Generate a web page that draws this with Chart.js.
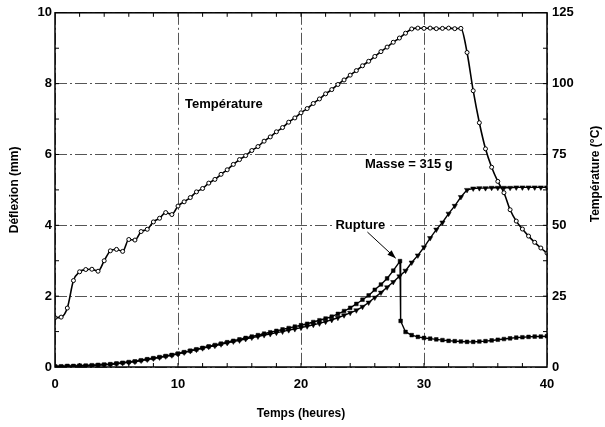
<!DOCTYPE html>
<html>
<head>
<meta charset="utf-8">
<script src="https://cdn.jsdelivr.net/npm/chart.js@4"></script>
<style>
  body { margin: 0; background: #fff; }
  canvas { display: block; }
</style>
</head>
<body>
<canvas id="chart" width="605" height="427"></canvas>
<script>
// temps (heures) pour la température et les triangles
const hours = [0, 0.5, 1, 1.5, 2, 2.5, 3, 3.5, 4, 4.5, 5, 5.5, 6, 6.5, 7, 7.5, 8, 8.5, 9, 9.5,
    10, 10.5, 11, 11.5, 12, 12.5, 13, 13.5, 14, 14.5, 15, 15.5, 16, 16.5, 17, 17.5, 18, 18.5, 19, 19.5,
    20, 20.5, 21, 21.5, 22, 22.5, 23, 23.5, 24, 24.5, 25, 25.5, 26, 26.5, 27, 27.5, 28, 28.5, 29, 29.5,
    30, 30.5, 31, 31.5, 32, 32.5, 33, 33.5, 34, 34.5, 35, 35.5, 36, 36.5, 37, 37.5, 38, 38.5, 39, 39.5, 40];

// température (°C)
const temperature = [17.4, 17.6, 20.8, 30.5, 33.6, 34.4, 34.5, 33.8, 37.5, 41.0, 41.5, 40.8, 45.0, 44.8, 47.8, 48.6, 51.2, 52.5, 54.5, 53.8,
    56.8, 58.3, 59.8, 61.8, 63.0, 64.9, 66.2, 68.0, 69.6, 71.5, 73.2, 74.6, 76.4, 77.8, 79.7, 81.2, 83.0, 84.5, 86.4, 87.9,
    89.7, 91.2, 93.0, 94.6, 96.4, 97.9, 99.7, 101.3, 103.0, 104.6, 106.3, 107.9, 109.6, 111.3, 112.9, 114.6, 116.1, 117.8, 119.3, 119.6,
    119.5, 119.6, 119.4, 119.5, 119.6, 119.4, 119.5, 111.0, 97.5, 86.2, 77.0, 70.5, 65.5, 61.5, 55.5, 51.5, 48.7, 46.2, 44.0, 42.0, 40.2];

// déflexion (mm), triangles
const deflexionTriangles = [0.01, 0.01, 0.02, 0.02, 0.03, 0.03, 0.04, 0.05, 0.06, 0.07, 0.09, 0.11, 0.13, 0.15, 0.18, 0.21, 0.24, 0.27, 0.30, 0.33,
    0.37, 0.41, 0.45, 0.49, 0.53, 0.57, 0.60, 0.64, 0.68, 0.72, 0.75, 0.79, 0.83, 0.86, 0.90, 0.93, 0.97, 1.00, 1.04, 1.07,
    1.11, 1.15, 1.19, 1.23, 1.28, 1.33, 1.39, 1.46, 1.53, 1.60, 1.70, 1.82, 1.96, 2.10, 2.25, 2.40, 2.56, 2.72, 2.95, 3.15,
    3.38, 3.64, 3.88, 4.08, 4.33, 4.55, 4.80, 5.00, 5.04, 5.05, 5.05, 5.06, 5.06, 5.06, 5.06, 5.07, 5.07, 5.07, 5.07, 5.07, 5.07];

// déflexion (mm), carrés : rupture à 28 h
const squareHours = [0, 0.5, 1, 1.5, 2, 2.5, 3, 3.5, 4, 4.5, 5, 5.5, 6, 6.5, 7, 7.5, 8, 8.5, 9, 9.5,
    10, 10.5, 11, 11.5, 12, 12.5, 13, 13.5, 14, 14.5, 15, 15.5, 16, 16.5, 17, 17.5, 18, 18.5, 19, 19.5,
    20, 20.5, 21, 21.5, 22, 22.5, 23, 23.5, 24, 24.5, 25, 25.5, 26, 26.5, 27, 27.5, 28.05, 28.1, 28.5, 29, 29.5,
    30, 30.5, 31, 31.5, 32, 32.5, 33, 33.5, 34, 34.5, 35, 35.5, 36, 36.5, 37, 37.5, 38, 38.5, 39, 39.5, 40];
const deflexionSquares = [0.02, 0.02, 0.03, 0.03, 0.04, 0.04, 0.05, 0.06, 0.07, 0.08, 0.10, 0.12, 0.14, 0.16, 0.19, 0.22, 0.25, 0.28, 0.31, 0.34,
    0.38, 0.42, 0.46, 0.50, 0.54, 0.58, 0.62, 0.66, 0.70, 0.74, 0.78, 0.82, 0.86, 0.90, 0.94, 0.98, 1.02, 1.06, 1.10, 1.14,
    1.18, 1.22, 1.27, 1.32, 1.37, 1.42, 1.50, 1.58, 1.67, 1.78, 1.90, 2.02, 2.18, 2.33, 2.50, 2.72, 2.99, 1.30, 0.99, 0.90, 0.85,
    0.82, 0.80, 0.78, 0.76, 0.74, 0.73, 0.72, 0.71, 0.71, 0.72, 0.73, 0.75, 0.77, 0.79, 0.81, 0.83, 0.84, 0.85, 0.86, 0.86, 0.87];

const xTicks = [0, 10, 20, 30, 40];
const yTicks = [0, 2, 4, 6, 8, 10];
const y1Ticks = [0, 25, 50, 75, 100, 125];

const FONT = '"Liberation Sans", Arial, sans-serif';

function toPoints(xs, ys) {
    return ys.map(function (v, i) { return { x: xs[i], y: v }; });
}

// cadre, petites graduations, titre de droite et annotations
const decorPlugin = {
    id: 'decor',
    afterDraw: function (chart) {
        const ctx = chart.ctx;
        const a = chart.chartArea;
        const x = chart.scales.x, y = chart.scales.y, y1 = chart.scales.y1;
        ctx.save();
        ctx.strokeStyle = '#000';
        ctx.lineWidth = 1.5;
        ctx.strokeRect(a.left, a.top, a.right - a.left, a.bottom - a.top);

        ctx.lineWidth = 1;
        ctx.beginPath();
        for (let h = 2; h < 40; h += 2) {
            const px = x.getPixelForValue(h);
            ctx.moveTo(px, a.top); ctx.lineTo(px, a.top + 4);
            ctx.moveTo(px, a.bottom); ctx.lineTo(px, a.bottom - 4);
        }
        for (let m = 1; m < 10; m++) {
            const py = y.getPixelForValue(m);
            ctx.moveTo(a.left, py); ctx.lineTo(a.left + 4, py);
        }
        for (let t = 12.5; t < 125; t += 12.5) {
            const py = y1.getPixelForValue(t);
            ctx.moveTo(a.right, py); ctx.lineTo(a.right - 4, py);
        }
        ctx.stroke();

        // titre axe droit, lu de bas en haut
        ctx.fillStyle = '#000';
        ctx.font = 'bold 12px ' + FONT;
        ctx.textAlign = 'center';
        ctx.textBaseline = 'middle';
        ctx.save();
        ctx.translate(595.5, 174);
        ctx.rotate(-Math.PI / 2);
        ctx.fillText('Température (°C)', 0, 0);
        ctx.restore();

        // annotations
        ctx.font = 'bold 13px ' + FONT;
        ctx.textAlign = 'left';
        function label(text, hx, my) {
            const px = x.getPixelForValue(hx), py = y.getPixelForValue(my);
            const w = ctx.measureText(text).width;
            ctx.fillStyle = '#fff';
            ctx.fillRect(px - 2, py - 8, w + 4, 16);
            ctx.fillStyle = '#000';
            ctx.fillText(text, px, py);
        }
        label('Température', 10.57, 7.42);
        label('Masse = 315 g', 25.2, 5.71);
        label('Rupture', 22.8, 3.99);

        // flèche vers la rupture
        const x0 = x.getPixelForValue(25.4), y0 = y.getPixelForValue(3.81);
        const x1 = x.getPixelForValue(27.7), y1p = y.getPixelForValue(3.07);
        const ang = Math.atan2(y1p - y0, x1 - x0);
        ctx.strokeStyle = '#000';
        ctx.lineWidth = 1;
        ctx.beginPath();
        ctx.moveTo(x0, y0);
        ctx.lineTo(x1, y1p);
        ctx.stroke();
        ctx.beginPath();
        ctx.moveTo(x1, y1p);
        ctx.lineTo(x1 - 9 * Math.cos(ang - 0.35), y1p - 9 * Math.sin(ang - 0.35));
        ctx.lineTo(x1 - 9 * Math.cos(ang + 0.35), y1p - 9 * Math.sin(ang + 0.35));
        ctx.closePath();
        ctx.fill();
        ctx.restore();
    }
};

const tickFont = { family: FONT, size: 13, weight: 'bold' };

new Chart(document.querySelector('#chart'), {
    type: 'line',
    data: {
        datasets: [{
            label: 'Température',
            data: toPoints(hours, temperature),
            yAxisID: 'y1',
            borderColor: '#000',
            borderWidth: 1.6,
            cubicInterpolationMode: 'monotone',
            pointStyle: 'circle',
            pointRadius: 2,
            pointBorderWidth: 1,
            pointBorderColor: '#000',
            pointBackgroundColor: '#fff'
        }, {
            label: 'Déflexion (triangles)',
            data: toPoints(hours, deflexionTriangles),
            yAxisID: 'y',
            borderColor: '#000',
            borderWidth: 1.4,
            tension: 0,
            pointStyle: 'triangle',
            pointRotation: 180,
            pointRadius: 3,
            pointBorderWidth: 0.5,
            pointBorderColor: '#000',
            pointBackgroundColor: '#000'
        }, {
            label: 'Déflexion (carrés)',
            data: toPoints(squareHours, deflexionSquares),
            yAxisID: 'y',
            borderColor: '#000',
            borderWidth: 1.4,
            tension: 0,
            pointStyle: 'rect',
            pointRadius: 2.6,
            pointBorderWidth: 0.5,
            pointBorderColor: '#000',
            pointBackgroundColor: '#000'
        }]
    },
    options: {
        responsive: false,
        animation: false,
        layout: { padding: { top: 10, left: 0, right: 0, bottom: 0 } },
        plugins: {
            legend: { display: false },
            tooltip: { enabled: false }
        },
        scales: {
            x: {
                type: 'linear',
                min: 0,
                max: 40,
                afterBuildTicks: function (s) { s.ticks = xTicks.map(function (v) { return { value: v }; }); },
                afterFit: function (s) { s.height = 60; },
                ticks: { font: tickFont, color: '#000', padding: 10 },
                grid: { color: '#555', lineWidth: 1, drawTicks: false },
                border: { display: false, dash: [12, 3, 2, 3] },
                title: {
                    display: true,
                    text: 'Temps (heures)',
                    color: '#000',
                    font: { family: FONT, size: 12, weight: 'bold' },
                    padding: { top: 0, bottom: 6 }
                }
            },
            y: {
                position: 'left',
                min: 0,
                max: 10,
                afterBuildTicks: function (s) { s.ticks = yTicks.map(function (v) { return { value: v }; }); },
                afterFit: function (s) { s.width = 55; },
                ticks: { font: tickFont, color: '#000', padding: 3 },
                grid: { color: '#555', lineWidth: 1, drawTicks: false },
                border: { display: false, dash: [12, 3, 2, 3] },
                title: {
                    display: true,
                    text: 'Déflexion (mm)',
                    color: '#000',
                    font: { family: FONT, size: 12, weight: 'bold' },
                    padding: { top: 7, bottom: 0 }
                }
            },
            y1: {
                position: 'right',
                min: 0,
                max: 125,
                afterBuildTicks: function (s) { s.ticks = y1Ticks.map(function (v) { return { value: v }; }); },
                afterFit: function (s) { s.width = 58; },
                ticks: { font: tickFont, color: '#000', padding: 5 },
                grid: { display: false, drawTicks: false },
                border: { display: false }
            }
        }
    },
    plugins: [decorPlugin]
});
</script>
</body>
</html>
